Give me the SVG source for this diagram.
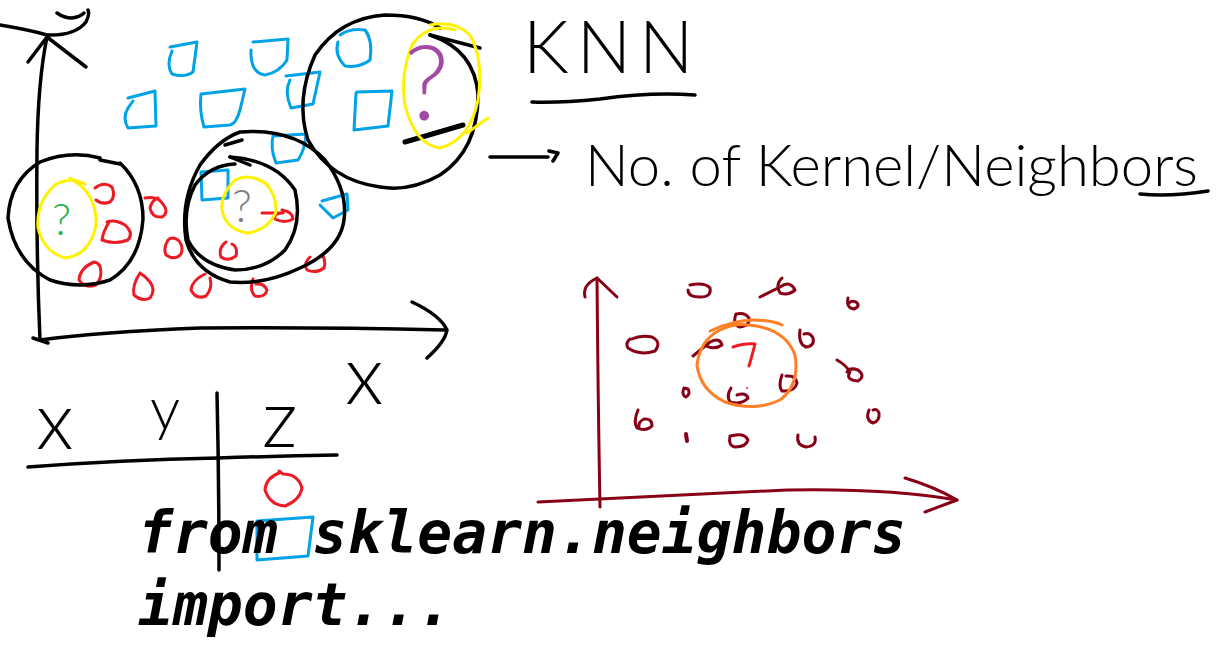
<svg xmlns="http://www.w3.org/2000/svg" width="1222" height="664" viewBox="0 0 1222 664">
<style>
.k{fill:none;stroke:#000;stroke-width:3.5;stroke-linecap:round;stroke-linejoin:round}
.b{fill:none;stroke:#00a2e8;stroke-width:3;stroke-linecap:round;stroke-linejoin:round}
.r{fill:none;stroke:#ed1c24;stroke-width:3;stroke-linecap:round;stroke-linejoin:round}
.y{fill:none;stroke:#fff200;stroke-width:3;stroke-linecap:round;stroke-linejoin:round}
.m{fill:none;stroke:#880015;stroke-width:3;stroke-linecap:round;stroke-linejoin:round}
.o{fill:none;stroke:#ff7f27;stroke-width:3;stroke-linecap:round;stroke-linejoin:round}
.hw{font-family:Lato,"Liberation Sans",sans-serif;font-weight:300;fill:#000}
.q{font-family:Lato,"Liberation Sans",sans-serif;font-weight:300}
.code{font-family:"DejaVu Sans Mono","Liberation Mono",monospace;font-weight:bold;font-style:oblique;font-size:58px;fill:#000}
</style>
<rect width="1222" height="664" fill="#fff"/>

<g id="left-plot-axes">
<path class="k" d="M40,340 Q36,250 37,150 Q38,80 47,37"/>
<path class="k" d="M28,62 L47,37 L86,67"/>
<path class="k" d="M0,25 Q30,30 47,35 Q75,36 86,22 Q90,14 88,10 M57,13 Q64,18 72,18 Q80,17 84,13"/>
<path class="k" d="M33,338 L48,343"/>
<path class="k" d="M40,340 Q100,332 200,328 Q320,327 445,330"/>
<path class="k" d="M412,302 Q440,315 447,330 Q445,342 427,358"/>
<text class="hw" x="345" y="404" font-size="82">x</text>
</g>

<g id="blue-squares">
<path class="b" d="M170,47 L197,42 L193,72 Q184,78 172,74 Q166,65 172,51"/>
<path class="b" d="M253,42 L288,39 L287,60 Q280,72 265,75 Q250,73 251,50"/>
<path class="b" d="M340,35 Q350,28 365,30 Q373,40 370,60 Q360,68 345,66 Q334,55 338,42"/>
<path class="b" d="M128,98 L155,91 L156,126 L128,128 Q122,118 128,108 L133,101"/>
<path class="b" d="M201,94 L245,89 L240,110 Q236,124 230,125 L204,127 Q199,110 201,94"/>
<path class="b" d="M286,76 L320,72 L313,104 L291,108 Q284,92 290,80"/>
<path class="b" d="M357,92 L392,91 L388,126 L354,130 L356,93"/>
<path class="b" d="M273,136 L306,134 Q305,150 298,160 L276,163 Q270,148 273,136"/>
<path class="b" d="M201,172 L228,170 L228,198 L202,200 L201,172"/>
<path class="b" d="M322,201 L347,194 L348,210 L333,218 L320,205"/>
<path class="b" d="M257,521 L313,517 L308,556 L257,560 L257,521"/>
</g>

<g id="red-points">
<path class="r" d="M95,188 Q104,181 112,187 Q116,197 110,202 Q102,205 96,200"/>
<path class="r" d="M145,198 Q158,196 162,203 Q170,212 162,217 Q152,218 150,208 Q152,200 158,198"/>
<path class="r" d="M109,222 Q103,232 102,240 Q115,245 128,240 Q134,233 125,225 Q115,219 107,222"/>
<path class="r" d="M168,240 Q163,248 166,255 Q175,261 181,254 Q184,246 178,240 Q172,236 168,240"/>
<path class="r" d="M94,262 Q80,268 79,280 Q85,289 96,285 Q103,278 100,266 Q97,262 94,262"/>
<path class="r" d="M140,273 Q132,285 134,295 Q142,302 150,298 Q156,290 150,282 Q145,276 140,273"/>
<path class="r" d="M205,274 Q192,280 191,290 Q196,300 206,296 Q213,288 210,278"/>
<path class="r" d="M253,279 Q249,290 255,296 Q265,298 267,290 Q264,283 256,284"/>
<path class="r" d="M310,257 Q303,264 307,270 Q316,274 324,268 Q326,262 323,256"/>
<path class="r" d="M226,242 Q218,248 221,257 Q228,262 236,256 Q238,247 232,244"/>
<path class="r" d="M262,213 L283,213 Q273,213 275,219 Q285,224 293,219 Q293,212 282,210"/>
<path class="r" d="M279,473 Q266,478 265,490 Q270,505 285,506 Q300,500 302,488 Q298,474 283,474 L279,471"/>
</g>

<g id="black-circles">
<path class="k" d="M120,163 Q143,185 143,219 Q140,262 110,280 Q80,290 50,280 Q15,262 8,218 Q10,180 40,162 Q70,150 100,158"/>
<path class="k" d="M100,160 L120,164"/>
<path class="k" d="M240,132 Q295,128 325,160 Q348,190 344,220 Q340,250 300,268 Q265,285 230,282 Q195,272 186,240 Q180,200 200,165 Q218,140 240,132"/>
<path class="k" d="M225,145 L242,140"/>
<path class="k" d="M230,157 Q275,160 295,190 Q303,225 285,250 Q265,270 235,270 Q200,265 188,240 Q182,210 195,185 Q210,165 235,164"/>
<path class="k" d="M230,157 L250,165"/>
<path class="k" d="M430,35 Q475,50 478,95 Q478,150 440,175 Q410,192 380,187 Q330,180 308,140 Q295,100 315,55 Q340,18 385,15 Q420,15 440,28"/>
<path class="k" d="M430,35 L480,48"/>
<path class="k" d="M405,142 L463,125" style="stroke-width:5"/>
</g>

<g id="yellow-circles">
<path class="y" d="M85,184 Q70,176 55,185 Q36,202 38,228 Q44,252 65,258 Q90,255 96,225 Q97,200 80,185 L70,178"/>
<path class="y" d="M268,185 Q250,172 235,180 Q220,195 222,210 Q226,230 248,233 Q268,230 276,212 Q277,195 265,183"/>
<path class="y" d="M455,30 Q428,22 412,45 Q400,75 405,105 Q415,145 440,148 Q470,140 478,100 Q484,60 470,35 Q455,20 430,25"/>
<path class="y" d="M467,133 L488,118"/>
</g>

<g id="question-marks">
<text class="q" x="52" y="235" font-size="44" fill="#22b14c" font-weight="400">?</text>
<text class="q" x="232" y="222" font-size="46" fill="#7f7f7f">?</text>
<text class="q" x="404" y="120" font-size="104" fill="#a349a4">?</text>
</g>

<g id="title">
<text class="hw" x="523" y="73" font-size="72" letter-spacing="8">KNN</text>
<path class="k" d="M532,102 Q560,103 600,99 Q650,92 695,95"/>
</g>

<g id="note">
<path class="k" d="M490,157 L548,157 M549,151 L558,153 L553,161"/>
<text class="hw" x="585" y="186" font-size="58">No. of Kernel/Neighbors</text>
<path class="k" d="M1140,194 Q1170,197 1208,191"/>
</g>

<g id="table">
<path class="k" d="M28,467 Q120,460 218,458 Q280,456 337,455"/>
<path class="k" d="M217,393 Q219,480 219,570"/>
<text class="hw" x="36" y="449" font-size="80">x</text>
<text class="hw" x="150" y="430" font-size="60">y</text>
<text class="hw" x="262" y="447" font-size="80">z</text>
</g>

<g id="right-plot">
<path class="m" d="M600,507 Q598,400 597,278"/>
<path class="m" d="M585,297 Q582,285 597,278 L617,297"/>
<path class="m" d="M538,502 Q650,497 787,490 Q887,488 957,500"/>
<path class="m" d="M905,478 Q935,487 957,500 L925,512"/>
<path class="m" d="M690,285 Q705,282 710,288 Q712,297 700,297 Q688,297 688,290"/>
<path class="m" d="M760,297 L780,287 Q790,280 795,290 Q788,296 780,293 Q775,285 782,278"/>
<path class="m" d="M848,298 Q846,308 854,309 Q861,306 856,302 Q852,300 849,303"/>
<path class="m" d="M736,314 Q732,325 740,327 Q750,326 749,318 Q745,312 736,314"/>
<path class="m" d="M630,339 Q625,343 628,348 Q640,356 655,351 Q662,342 652,337 Q640,335 632,339"/>
<path class="m" d="M693,356 L710,342 Q720,337 722,345 Q715,350 706,346"/>
<path class="m" d="M800,330 Q798,344 806,347 Q815,346 813,338 Q810,332 804,334"/>
<path class="m" d="M837,360 Q846,365 850,372 Q845,380 858,381 Q866,376 858,370 Q850,367 847,372"/>
<path class="m" d="M782,375 Q778,386 782,391 Q795,392 797,383 Q796,375 786,376"/>
<path class="m" d="M731,388 Q726,396 730,402 Q742,405 748,398 Q746,392 737,395"/>
<path class="m" d="M684,388 Q681,395 686,397 Q691,394 688,389 Z"/>
<path class="m" d="M638,410 Q633,422 637,428 Q646,432 652,426 Q652,418 644,419 Q638,422 639,427"/>
<path class="m" d="M869,410 Q865,420 873,423 Q880,421 879,413 Q877,408 873,410"/>
<path class="m" d="M686,434 L687,441" style="stroke-width:4"/>
<path class="m" d="M730,436 Q728,446 735,447 Q746,447 748,440 Q745,434 736,435 Z"/>
<path class="m" d="M798,435 Q796,445 806,447 Q817,446 815,437"/>
</g>

<g id="query-circle">
<path class="o" d="M710,331 Q735,320 753,320 Q772,320 782,325"/>
<path class="o" d="M748,325 Q785,328 795,355 Q800,385 780,400 Q755,412 725,402 Q700,390 697,365 Q700,340 720,330 Q735,323 748,325"/>
<path class="r" d="M733,347 Q745,343 755,344 Q752,356 749,366"/>
<circle cx="747" cy="388" r="1" fill="#ed1c24"/>
</g>

<g id="code">
<text class="code" x="138" y="553">from sklearn.neighbors</text>
<text class="code" x="138" y="625">import...</text>
</g>
</svg>
